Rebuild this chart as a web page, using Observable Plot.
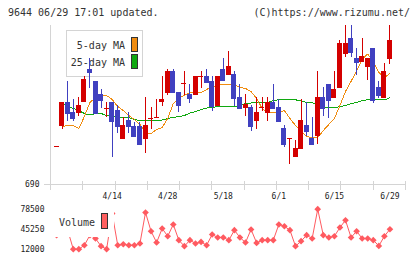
<!DOCTYPE html>
<html><head><meta charset="utf-8">
<script src="https://cdn.jsdelivr.net/npm/d3@7"></script>
<script src="https://cdn.jsdelivr.net/npm/@observablehq/plot@0.6"></script>
<style>
body{margin:0;background:#fff;}
#wrap{position:relative;width:420px;height:259px;overflow:hidden;font-family:"DejaVu Sans Mono",monospace;color:#333;background:#fff;}
.t{position:absolute;font-size:10px;line-height:10px;white-space:nowrap;}
.sw{position:absolute;border:1px solid #333;box-sizing:border-box;}
#main,#vol{position:absolute;left:0;}
#main{top:0;z-index:1;}
#vol{top:200px;z-index:1;}
#leg1{position:absolute;left:66px;top:30px;width:77px;height:47px;border:1px solid #d4d4d4;box-sizing:border-box;background:#fff;z-index:0;}
#leg2{position:absolute;left:52px;top:209px;width:62px;height:28px;background:#fff;z-index:2;}
</style></head><body><div id="wrap">
<div class="t" style="left:8px;top:7.5px;">9644 06/29 17:01 updated.</div>
<div class="t" style="right:10px;top:7.5px;">(C)https://www.rizumu.net/</div>
<div id="leg1"></div>
<div class="t" style="right:295px;top:41px;z-index:0;">5-day MA</div>
<div class="t" style="right:295px;top:57.5px;z-index:0;">25-day MA</div>
<div class="sw" style="left:131px;top:37px;width:7px;height:15px;background:#f08c10;z-index:0;"></div>
<div class="sw" style="left:131px;top:54px;width:7px;height:15px;background:#10a810;z-index:0;"></div>
<div id="main"></div>
<div id="vol"></div>
<div id="leg2"></div>
<div class="t" style="left:59px;top:218px;z-index:3;">Volume</div>
<div class="sw" style="left:101px;top:213px;width:7px;height:16px;background:#ff6060;z-index:3;"></div>
</div>
<script>
const dateLabels = ["4/14","4/28","5/18","6/1","6/15","6/29"];
const dateIndex = [10,20,30,40,50,60];
const priceTicks = [690];
const volumeTicks = [12000,45250,78500];
const open  = [728,748,772,762,761,772,805,793,780,766,772,764,735,754,748,748,735,756,757,772,781,803,782,791,780,779,798,798,793,768,805,799,800,777,766,767,753,767,761,772,767,746,736,717,725,749,736,738,777,790,776,786,820,836,816,812,807,826,787,776,815];
const high  = [728,772,793,775,777,798,816,793,785,772,772,769,757,762,752,752,777,767,775,798,805,805,782,803,790,798,803,805,798,798,816,823,803,790,780,769,777,777,777,790,775,749,736,734,775,772,757,803,787,790,803,834,849,849,826,836,816,826,793,811,849];
const low   = [728,745,753,753,758,772,786,761,766,757,717,741,735,741,738,730,721,745,756,768,779,782,762,779,771,779,786,792,763,768,794,799,768,766,758,743,745,763,753,766,753,727,710,717,725,738,730,730,758,756,776,786,817,817,799,812,794,771,776,776,810];
const close = [728,772,761,756,769,795,802,761,774,766,753,748,749,748,738,730,749,756,757,775,803,782,769,791,776,798,798,792,768,798,794,808,776,766,770,748,762,767,772,766,753,730,736,726,754,743,730,777,766,774,785,831,831,822,812,818,816,774,779,803,834];
const ma5   = [null,748,749,749,746,758,772,777,779,779,775,768,764,759,755,750,742,741,745,747,756,771,776.5,779,782,782,782,785,788,789,790,790,790,787,786,783,776,766,762,762,762,764,756,749,743,738,737,737,744,750,756,769,783,793,804,815,820.5,813,802,797,801];
const ma25  = [null,771,768,766,764,761,759.5,761,761,759,758,757.5,757,757,755,754,754,754,754,754.5,756,757,758,759,761.5,763,765,766.5,767,768,768,768,768,769,771,771.5,772,772,772,774,774.7,774.7,774.7,774.7,773.5,772,772,769,766.7,766.7,766.7,768,769,771,772,774,774.7,774.7,774.7,774.7,776.7];
const volume = [35800,39100,44100,12500,12500,19100,35800,30300,17500,12500,72000,19100,20800,19100,19100,22000,73500,42400,23600,46900,34100,53600,27500,17500,27500,22000,24600,19100,36900,32000,32000,27500,44100,32000,23600,45300,23000,27500,27500,27500,53600,50700,44100,17500,25800,35800,30300,79000,35800,32000,34100,48600,60700,32000,42400,30300,30300,27500,18000,34100,45700];

const rows = open.map((o,i)=>({i, o, h: high[i], l: low[i], c: close[i], ma5: ma5[i], ma25: ma25[i], v: volume[i]}));
const RED = "#d40000", BLUE = "#4040c0", GRAY = "#d4d4d4";
const col = d => d.c >= d.o ? RED : BLUE;
const xDomain = [-1.1, 62.8];
const gridTicks = d3.range(12).map(k => xDomain[0] + k*(xDomain[1]-xDomain[0])/11);
const half = 0.45;

const main = Plot.plot({
  width: 420, height: 205,
  marginTop: 25, marginBottom: 21, marginLeft: 50, marginRight: 15,
  x: {domain: xDomain, axis: null, label: null},
  y: {domain: [690, 849], axis: null, label: null},
  style: {background: "transparent", fontFamily: "DejaVu Sans Mono", fontSize: "8px", color: "#333", overflow: "visible", shapeRendering: "crispEdges"},
  marks: [
    Plot.ruleX([xDomain[0]], {stroke: GRAY}),
    Plot.ruleY([priceTicks[0]], {stroke: GRAY}),
    Plot.axisX({ticks: gridTicks, tickSize: 9, dy: -3, tickFormat: () => "", stroke: GRAY, label: null}),
    Plot.axisX({ticks: dateIndex, tickSize: 0, tickPadding: 9, tickFormat: i => dateLabels[dateIndex.indexOf(i)], fill: "#222", label: null}),
    Plot.axisY({ticks: priceTicks, tickSize: 6, tickPadding: 5, tickFormat: d => String(d), stroke: GRAY, fill: "#222", label: null}),
    Plot.line(rows.filter(d => d.ma25 != null), {x: "i", y: "ma25", stroke: "#10a810", strokeWidth: 1}),
    Plot.line(rows.filter(d => d.ma5 != null), {x: "i", y: "ma5", stroke: "#f08c10", strokeWidth: 1}),
    Plot.ruleX(rows, {x: "i", y1: "l", y2: "h", stroke: col, strokeWidth: 1}),
    Plot.rect(rows, {x1: d => d.i - half, x2: d => d.i + half, y1: "o", y2: "c", fill: col}),
    Plot.ruleY(rows, {y: "c", x1: d => d.i - half, x2: d => d.i + half, stroke: col})
  ]
});
document.getElementById("main").append(main);

const vol = Plot.plot({
  width: 420, height: 59,
  marginTop: 9, marginBottom: 10, marginLeft: 50, marginRight: 15,
  x: {domain: xDomain, axis: null, label: null},
  y: {domain: [volumeTicks[0], volumeTicks[2]], axis: null, label: null},
  style: {background: "transparent", fontFamily: "DejaVu Sans Mono", fontSize: "8px", color: "#333", overflow: "visible"},
  marks: [
    Plot.axisY({ticks: volumeTicks, tickSize: 0, tickPadding: 6, tickFormat: d => String(d), fill: "#222", label: null}),
    Plot.line(rows, {x: "i", y: "v", stroke: "#ff5a60", strokeWidth: 1}),
    Plot.dot(rows, {x: "i", y: "v", symbol: "diamond2", r: 3, fill: "#ff5a60", stroke: "none"})
  ]
});
document.getElementById("vol").append(vol);
</script>
</body></html>
